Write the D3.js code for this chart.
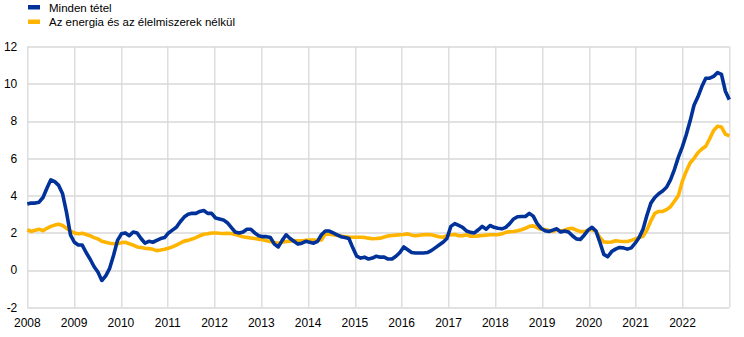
<html>
<head>
<meta charset="utf-8">
<script src="https://d3js.org/d3.v7.min.js"></script>
<style>
  body { margin: 0; background: #fff; }
  text { font-family: "Liberation Sans", Arial, sans-serif; fill: #000; }
</style>
</head>
<body>
<div id="chart"></div>
<script>
// monthly series, Jan 2008 - Dec 2022
var allItems = [
  3.55,3.6,3.6,3.65,3.9,4.4,4.85,4.75,4.55,4.1,3.1,1.9,
  1.5,1.35,1.35,0.95,0.6,0.2,-0.1,-0.55,-0.3,0.1,0.8,1.6,
  1.95,2.0,1.85,2.05,2.0,1.7,1.45,1.55,1.5,1.6,1.7,1.75,
  2.0,2.15,2.3,2.6,2.85,3.0,3.05,3.05,3.15,3.2,3.05,3.05,
  2.8,2.75,2.7,2.55,2.3,2.05,2.0,2.05,2.2,2.2,2.0,1.85,
  1.8,1.8,1.75,1.4,1.25,1.6,1.9,1.7,1.55,1.4,1.45,1.55,
  1.5,1.45,1.55,1.9,2.1,2.1,2.0,1.9,1.8,1.75,1.7,1.2,
  0.75,0.65,0.7,0.6,0.65,0.75,0.7,0.7,0.6,0.6,0.75,0.95,
  1.25,1.1,0.95,0.92,0.92,0.92,0.95,1.05,1.2,1.35,1.5,1.7,
  2.35,2.5,2.4,2.3,2.1,2.03,2.0,2.17,2.35,2.2,2.4,2.3,
  2.25,2.22,2.3,2.5,2.75,2.87,2.88,2.88,3.05,2.9,2.5,2.25,
  2.12,2.08,2.15,2.22,2.05,2.1,2.05,1.85,1.68,1.65,1.88,2.15,
  2.3,2.1,1.5,0.85,0.72,1.0,1.13,1.22,1.2,1.13,1.2,1.45,
  1.75,2.2,2.95,3.6,3.9,4.1,4.25,4.45,4.85,5.4,6.05,6.6,
  7.25,8.0,8.85,9.3,9.85,10.3,10.3,10.4,10.6,10.5,9.6,9.15
];
var coreItems = [
  2.17,2.08,2.15,2.2,2.12,2.25,2.35,2.42,2.47,2.4,2.25,2.1,
  2.0,1.96,1.98,1.92,1.85,1.75,1.68,1.55,1.5,1.45,1.42,1.42,
  1.48,1.5,1.42,1.35,1.25,1.22,1.18,1.16,1.12,1.05,1.08,1.12,
  1.18,1.25,1.35,1.45,1.56,1.6,1.67,1.75,1.85,1.93,1.96,2.0,
  2.0,1.98,1.97,1.98,1.97,1.92,1.86,1.8,1.76,1.73,1.7,1.66,
  1.63,1.58,1.54,1.48,1.45,1.5,1.54,1.56,1.58,1.58,1.58,1.6,
  1.62,1.62,1.6,1.62,1.95,1.93,1.9,1.87,1.83,1.8,1.78,1.77,
  1.77,1.77,1.76,1.72,1.69,1.7,1.72,1.78,1.84,1.86,1.88,1.9,
  1.92,1.95,1.88,1.85,1.88,1.9,1.92,1.9,1.85,1.8,1.77,1.85,
  1.9,1.92,1.85,1.85,1.9,1.82,1.82,1.84,1.86,1.88,1.9,1.9,
  1.9,1.95,2.03,2.06,2.08,2.12,2.17,2.25,2.35,2.38,2.28,2.2,
  2.18,2.13,2.08,2.18,2.1,2.15,2.22,2.25,2.15,2.08,2.07,2.15,
  2.18,2.1,1.75,1.52,1.5,1.51,1.58,1.55,1.54,1.54,1.6,1.68,
  1.75,1.82,2.15,2.65,3.05,3.15,3.15,3.25,3.4,3.7,4.0,4.75,
  5.3,5.75,6.0,6.3,6.5,6.65,7.05,7.5,7.72,7.68,7.3,7.2
];
var years = [2008,2009,2010,2011,2012,2013,2014,2015,2016,2017,2018,2019,2020,2021,2022];
var yTicks = [-2,0,2,4,6,8,10,12];
var seriesNames = ["Minden tétel", "Az energia és az élelmiszerek nélkül"];
var seriesColors = ["#003299", "#ffb400"];

var W = 744, H = 337;
var margin = {top: 46.5, right: 14.7, bottom: 29.5, left: 27.3};
var width = W - margin.left - margin.right,
    height = H - margin.top - margin.bottom;

var svg = d3.select("#chart").append("svg")
    .attr("width", W)
    .attr("height", H);

var g = svg.append("g")
    .attr("transform", "translate(" + margin.left + "," + margin.top + ")");

var x = d3.scaleLinear().domain([2008, 2023]).range([0, width]);
var y = d3.scaleLinear().domain([-2, 12]).range([height, 0]);

// points spread over the full width
var n = allItems.length;
function tOf(i) { return 2008 + i * 15 / (n - 1); }

// grid
g.append("g")
  .selectAll("line")
  .data(years.concat([2023]))
  .enter().append("line")
    .attr("x1", function(d) { return Math.round(x(d)) + 0.5; })
    .attr("x2", function(d) { return Math.round(x(d)) + 0.5; })
    .attr("y1", 0).attr("y2", height)
    .attr("stroke", "#d9d9d9").attr("stroke-width", 1.3);

g.append("g")
  .selectAll("line")
  .data(yTicks)
  .enter().append("line")
    .attr("x1", 0).attr("x2", width)
    .attr("y1", function(d) { return Math.round(y(d)) + 0.5; })
    .attr("y2", function(d) { return Math.round(y(d)) + 0.5; })
    .attr("stroke", "#d9d9d9").attr("stroke-width", 1.3);

// y labels
g.append("g")
  .selectAll("text")
  .data(yTicks)
  .enter().append("text")
    .attr("x", -10)
    .attr("y", function(d) { return y(d); })
    .attr("dy", "0.35em")
    .attr("text-anchor", "end")
    .style("font-size", "12px")
    .text(function(d) { return d; });

// x labels
g.append("g")
  .selectAll("text")
  .data(years)
  .enter().append("text")
    .attr("x", function(d) { return x(d); })
    .attr("y", height + 19)
    .attr("text-anchor", "middle")
    .style("font-size", "12px")
    .text(function(d) { return d; });

// lines
var line = d3.line()
  .x(function(d, i) { return x(tOf(i)); })
  .y(function(d) { return y(d); });

[coreItems, allItems].forEach(function(s, k) {
  g.append("path")
    .datum(s)
    .attr("d", line)
    .attr("fill", "none")
    .attr("stroke", seriesColors[1 - k])
    .attr("stroke-width", 3.6)
    .attr("stroke-linejoin", "round");
});

// legend
var legend = svg.append("g");
seriesNames.forEach(function(name, k) {
  legend.append("rect")
    .attr("x", 28).attr("y", 5 + k * 14.5)
    .attr("width", 12).attr("height", 4.5)
    .attr("fill", seriesColors[k]);
  legend.append("text")
    .attr("x", 49).attr("y", 11.5 + k * 14.5)
    .style("font-size", "11.5px")
    .text(name);
});
</script>
</body>
</html>
